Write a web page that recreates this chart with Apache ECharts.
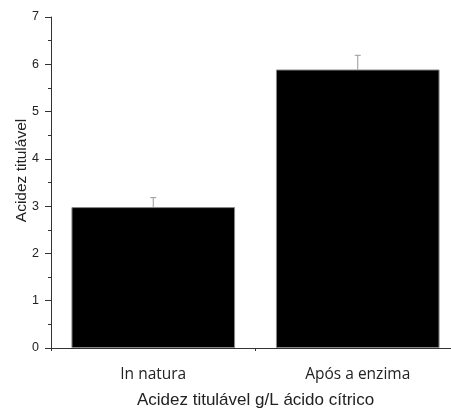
<!DOCTYPE html>
<html>
<head>
<meta charset="utf-8">
<script src="https://cdn.jsdelivr.net/npm/echarts@6/dist/echarts.min.js"></script>
<style>
  html, body { margin: 0; padding: 0; background: #fff; }
  #chart { width: 451px; height: 410px; }
</style>
</head>
<body>
<div id="chart"></div>
<script>
// data
var categories = ["In natura", "Após a enzima"];
var acidity = [2.98, 5.89];
var errors = [0.2, 0.3];
var yTicks = [0, 1, 2, 3, 4, 5, 6, 7];

var errData = acidity.map(function (v, i) { return [i, v, errors[i]]; });

var chart = echarts.init(document.getElementById("chart"));
var option = {
  animation: false,
  backgroundColor: "#fff",
  // plot area runs past the right edge, as in the cropped original
  grid: { left: 51, top: 17, bottom: 62, width: 409, outerBoundsMode: "none", containLabel: false },
  xAxis: [
    {
      type: "category",
      data: categories,
      boundaryGap: true,
      name: "Acidez titulável g/L ácido cítrico",
      nameLocation: "middle",
      nameGap: 44,
      nameMoveOverlap: false,
      nameTextStyle: { fontFamily: "Liberation Sans", fontSize: 17, color: "#222" },
      axisLine: { lineStyle: { color: "#333", width: 1 } },
      axisTick: { alignWithLabel: true, length: 5, lineStyle: { color: "#333" } },
      axisLabel: { fontFamily: "Open Sans", fontSize: 15.5, color: "#222", margin: 19 },
      splitLine: { show: false }
    },
    {
      // boundary ticks between the categories
      type: "category",
      data: categories,
      position: "bottom",
      boundaryGap: true,
      axisLine: { show: false },
      axisTick: { show: true, length: 3, lineStyle: { color: "#333" } },
      axisLabel: { show: false }
    }
  ],
  yAxis: {
    type: "value",
    min: 0,
    max: yTicks[yTicks.length - 1],
    interval: 1,
    name: "Acidez titulável",
    nameLocation: "middle",
    nameGap: 21,
    nameMoveOverlap: false,
    nameTextStyle: { fontFamily: "Liberation Sans", fontSize: 15.5, color: "#222", padding: [0, 0, 0, 24] },
    axisLine: { show: true, lineStyle: { color: "#333", width: 1 } },
    axisTick: { show: true, length: 6, lineStyle: { color: "#333" } },
    minorTick: { show: true, splitNumber: 2, length: 3, lineStyle: { color: "#333" } },
    axisLabel: { fontFamily: "Liberation Sans", fontSize: 12.5, color: "#222", margin: 12 },
    splitLine: { show: false }
  },
  series: [
    {
      type: "bar",
      data: acidity,
      barCategoryGap: "20%",
      itemStyle: { color: "#000", borderColor: "#888", borderWidth: 1 },
      z: 2
    },
    {
      type: "custom",
      data: errData,
      z: 1,
      renderItem: function (params, api) {
        var x = api.value(0);
        var top = api.coord([x, api.value(1) + api.value(2)]);
        var base = api.coord([x, api.value(1)]);
        var style = { stroke: "#999", lineWidth: 1 };
        return {
          type: "group",
          children: [
            { type: "line", shape: { x1: base[0], y1: base[1], x2: top[0], y2: top[1] }, style: style },
            { type: "line", shape: { x1: top[0] - 3, y1: top[1], x2: top[0] + 3, y2: top[1] }, style: style }
          ]
        };
      }
    }
  ]
};
chart.setOption(option);
</script>
</body>
</html>
